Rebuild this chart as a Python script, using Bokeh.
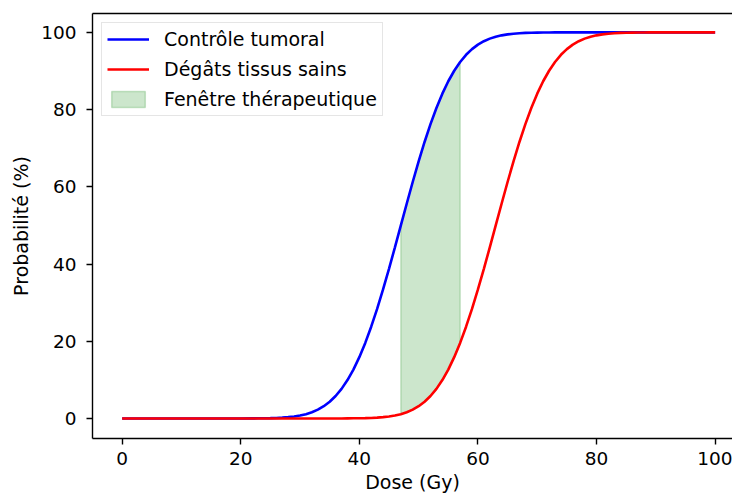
from bokeh.plotting import figure
from bokeh.models import LinearAxis, FixedTicker, Legend, LegendItem, Range1d
from bokeh.embed import file_html
from bokeh.resources import INLINE

# ---- data ----
dose = [0, 5, 10, 15, 20] + list(range(22, 91)) + [95, 100]

tumor_control = [0, 0, 0, 0, 0,
    0.02, 0.03, 0.05, 0.08, 0.13, 0.21, 0.33, 0.51, 0.76, 1.11,
    1.61, 2.28, 3.16, 4.32, 5.80, 7.66, 9.93, 12.65, 15.87, 19.57,
    23.76, 28.38, 33.41, 38.75, 44.32, 50.00, 55.68, 61.25, 66.59, 71.62,
    76.24, 80.43, 84.13, 87.35, 90.07, 92.34, 94.20, 95.68, 96.84, 97.72,
    98.39, 98.89, 99.24, 99.49, 99.67, 99.79, 99.87, 99.92, 99.95, 99.97,
    99.98, 100, 100, 100, 100, 100, 100, 100, 100, 100,
    100, 100, 100, 100, 100, 100, 100, 100, 100,
    100, 100]

healthy_damage = [0, 0, 0, 0, 0,
    0, 0, 0, 0, 0, 0, 0, 0, 0, 0, 0, 0, 0, 0, 0, 0,
    0.02, 0.03, 0.05, 0.08, 0.13, 0.21, 0.33, 0.51, 0.76, 1.11,
    1.61, 2.28, 3.16, 4.32, 5.80, 7.66, 9.93, 12.65, 15.87, 19.57,
    23.76, 28.38, 33.41, 38.75, 44.32, 50.00, 55.68, 61.25, 66.59, 71.62,
    76.24, 80.43, 84.13, 87.35, 90.07, 92.34, 94.20, 95.68, 96.84, 97.72,
    98.39, 98.89, 99.24, 99.49, 99.67, 99.79, 99.87, 99.92, 99.95, 99.97,
    99.98, 100, 100,
    100, 100]

window_start = 47
window_end = 57

x_ticks = [0, 20, 40, 60, 80, 100]
y_ticks = [0, 20, 40, 60, 80, 100]

assert len(dose) == len(tumor_control) == len(healthy_damage)

FONT = "DejaVu Sans"

p = figure(width=732, height=495, output_backend="svg", toolbar_location=None,
           x_range=Range1d(-5, 102.93), y_range=Range1d(-5.2, 104.9),
           min_border_left=92, min_border_right=0, min_border_top=13, min_border_bottom=56)
p.outline_line_color = None
p.xgrid.visible = False
p.ygrid.visible = False
p.background_fill_color = "white"
p.border_fill_color = "white"

for ax in (p.xaxis[0], p.yaxis[0]):
    ax.axis_line_width = 1.4
    ax.axis_line_color = "black"
    ax.major_tick_line_width = 1.4
    ax.major_tick_line_color = "black"
    ax.major_tick_out = 6
    ax.major_tick_in = 0
    ax.minor_tick_line_color = None
    ax.major_label_text_font = FONT
    ax.major_label_text_font_size = "18.5px"
    ax.major_label_text_color = "black"
    ax.axis_label_text_font = FONT
    ax.axis_label_text_font_size = "19px"
    ax.axis_label_text_font_style = "normal"
    ax.axis_label_text_color = "black"

p.xaxis.ticker = FixedTicker(ticks=x_ticks)
p.yaxis.ticker = FixedTicker(ticks=y_ticks)
p.xaxis.axis_label = "Dose (Gy)"
p.yaxis.axis_label = "Probabilité (%)"
p.xaxis.major_label_standoff = 7
p.xaxis.axis_label_standoff = 3
p.yaxis.major_label_standoff = 10
p.yaxis.axis_label_standoff = 6

top = LinearAxis(ticker=FixedTicker(ticks=[]), major_label_text_font_size="0px",
                 major_tick_out=0, major_tick_in=0, minor_tick_out=0, minor_tick_in=0,
                 major_label_standoff=0, axis_line_width=1.4, axis_line_color="black")
p.add_layout(top, "above")

# therapeutic window: between the curves from window_start to window_end
sel = [i for i, d in enumerate(dose) if window_start <= d <= window_end]
fx = [dose[i] for i in sel]
f_top = [tumor_control[i] for i in sel]
f_bot = [healthy_damage[i] for i in sel]
r_fill = p.patch(x=fx + fx[::-1], y=f_top + f_bot[::-1],
                 fill_color="green", fill_alpha=0.2,
                 line_color="green", line_alpha=0.2, line_width=1.5)

r_blue = p.line(dose, tumor_control, line_color="#0000ff", line_width=2.6)
r_red = p.line(dose, healthy_damage, line_color="#ff0000", line_width=2.6)

legend = Legend(items=[
    LegendItem(label="Contrôle tumoral", renderers=[r_blue]),
    LegendItem(label="Dégâts tissus sains", renderers=[r_red]),
    LegendItem(label="Fenêtre thérapeutique", renderers=[r_fill]),
], location="top_left")
legend.margin = 9
legend.padding = 5
legend.spacing = 8
legend.glyph_width = 42
legend.glyph_height = 20
legend.label_height = 20
legend.label_standoff = 15
legend.label_text_font = FONT
legend.label_text_font_size = "19px"
legend.label_text_color = "black"
legend.border_line_color = "#cccccc"
legend.border_line_width = 1.2
legend.background_fill_color = "white"
legend.background_fill_alpha = 0.8
p.add_layout(legend)

open("out.html", "w").write(file_html(p, INLINE))
